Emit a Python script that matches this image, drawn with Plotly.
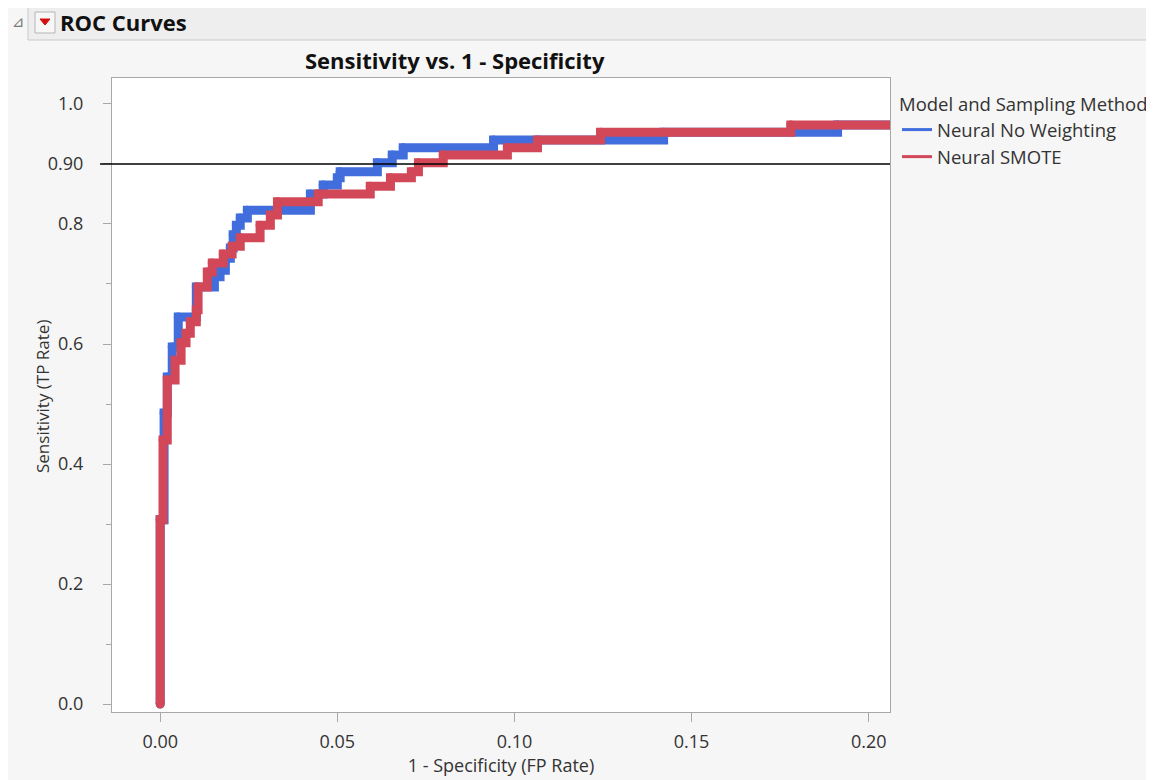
import plotly.graph_objects as go

# ---------------- data ----------------
series_names = ["Neural No Weighting", "Neural SMOTE"]

fpr_no_weighting = [0.0, 0.0, 0.0011, 0.002, 0.0034, 0.0051, 0.0102, 0.0153, 0.0169,
                    0.0184, 0.0198, 0.0206, 0.0215, 0.0226, 0.0246, 0.0424, 0.046,
                    0.05, 0.0508, 0.0613, 0.0655, 0.0686, 0.0941, 0.1421, 0.1912, 0.2232]
tpr_no_weighting = [0.0, 0.307, 0.485, 0.545, 0.595, 0.645, 0.695, 0.712, 0.723,
                    0.743, 0.76, 0.782, 0.798, 0.81, 0.823, 0.85, 0.865,
                    0.877, 0.887, 0.902, 0.915, 0.927, 0.94, 0.953, 0.965, 0.965]

fpr_smote = [0.0, 0.0, 0.0008, 0.002, 0.0042, 0.0059, 0.0073, 0.0085, 0.0102, 0.0107,
             0.0133, 0.0147, 0.0178, 0.0203, 0.0226, 0.0282, 0.0311, 0.0331, 0.0446,
             0.0593, 0.065, 0.0709, 0.0729, 0.0799, 0.098, 0.1065, 0.1243, 0.178, 0.2232]
tpr_smote = [0.0, 0.307, 0.44, 0.54, 0.573, 0.602, 0.618, 0.637, 0.657, 0.695,
             0.72, 0.735, 0.75, 0.763, 0.777, 0.798, 0.815, 0.837, 0.85,
             0.863, 0.877, 0.887, 0.902, 0.915, 0.927, 0.94, 0.953, 0.965, 0.965]

reference_sensitivity = 0.90

x_tick_values = [0.0, 0.05, 0.10, 0.15, 0.20]
x_tick_labels = ["0.00", "0.05", "0.10", "0.15", "0.20"]
y_tick_values = [0.0, 0.2, 0.4, 0.6, 0.8, 0.9, 1.0]
y_tick_labels = ["0.0", "0.2", "0.4", "0.6", "0.8", "0.90", "1.0"]
y_minor_values = [0.1, 0.3, 0.5, 0.7]

# ---------------- styling ----------------
OFF = 8                                   # page body margin added by the browser
W, H = 1154 - OFF, 780 - OFF
RPL, RPR, RPT, RPB = 112, 890, 78, 712    # plot area in reference-window pixels
PL, PR, PT, PB = RPL - OFF, RPR - OFF, RPT - OFF, RPB - OFF
FONT = "Open Sans"
BLUE = "#416EDC"
RED = "#D24858"
BG = "#F6F6F6"
TXT = "#333333"


def px_x(px):
    return (px - RPL) / (RPR - RPL)


def px_y(py):
    return (RPB - py) / (RPB - RPT)


fig = go.Figure()

for name, xs, ys, col in [(series_names[0], fpr_no_weighting, tpr_no_weighting, BLUE),
                          (series_names[1], fpr_smote, tpr_smote, RED)]:
    fig.add_trace(go.Scatter(
        x=xs, y=ys, mode="lines+markers", name=name, showlegend=False,
        line=dict(color=col, width=9, shape="hv"),
        marker=dict(color=col, size=9),
        hoverinfo="skip"))

# legend entries (line samples only)
for name, col in [(series_names[0], BLUE), (series_names[1], RED)]:
    fig.add_trace(go.Scatter(x=[None], y=[None], mode="lines", name=name,
                             line=dict(color=col, width=3)))

shapes = [
    # header bar
    dict(type="rect", xref="paper", yref="paper",
         x0=px_x(28), x1=px_x(1170), y0=px_y(40), y1=px_y(5),
         fillcolor="#EEEEEE", line=dict(color="#C9C9C9", width=1), layer="below"),
    # dropdown button
    dict(type="rect", xref="paper", yref="paper",
         x0=px_x(35), x1=px_x(55), y0=px_y(33), y1=px_y(12),
         fillcolor="#F7F7F7", line=dict(color="#B5B5B5", width=1)),
    dict(type="path", xref="paper", yref="paper",
         path="M {} {} L {} {} L {} {} Z".format(px_x(40), px_y(19), px_x(50), px_y(19), px_x(45), px_y(25)),
         fillcolor="#D01010", line=dict(color="#D01010", width=1)),
    # 0.90 reference line
    dict(type="line", xref="paper", yref="y",
         x0=px_x(100), x1=1.0, y0=reference_sensitivity, y1=reference_sensitivity,
         line=dict(color="black", width=1.5)),
]

annotations = [
    dict(text="⊿", xref="paper", yref="paper", x=px_x(10), y=px_y(22), xanchor="left",
         yanchor="middle", showarrow=False, font=dict(family="DejaVu Sans", size=15, color="#7A7A7A")),
    dict(text="<b>ROC Curves</b>", xref="paper", yref="paper", x=px_x(58), y=px_y(22),
         xanchor="left", yanchor="middle", showarrow=False,
         font=dict(family=FONT, size=22, color="#111111")),
    dict(text="<b>Sensitivity vs. 1 - Specificity</b>", xref="paper", yref="paper",
         x=px_x(455), y=px_y(60), xanchor="center", yanchor="middle", showarrow=False,
         font=dict(family=FONT, size=22, color="#111111")),
    dict(text="Sensitivity (TP Rate)", xref="paper", yref="paper", textangle=-90,
         x=px_x(42), y=px_y(397), xanchor="center", yanchor="middle", showarrow=False,
         font=dict(family=FONT, size=17, color=TXT)),
]

fig.update_layout(
    width=W, height=H,
    margin=dict(l=PL, r=W - PR, t=PT, b=H - PB, autoexpand=False),
    paper_bgcolor=BG, plot_bgcolor="white",
    font=dict(family=FONT, size=18, color=TXT),
    shapes=shapes, annotations=annotations,
    legend=dict(
        x=px_x(897), y=px_y(87), xanchor="left", yanchor="top",
        bgcolor="rgba(0,0,0,0)",
        title=dict(text="Model and Sampling Method", font=dict(family=FONT, size=18.5, color=TXT)),
        font=dict(family=FONT, size=18.5, color=TXT),
        tracegroupgap=0, itemwidth=30),
    xaxis=dict(
        range=[-0.0136, 0.206], tickvals=x_tick_values, ticktext=x_tick_labels,
        showgrid=False, zeroline=False, showline=True, mirror=True,
        linecolor="#A8A8A8", linewidth=1, ticks="outside", ticklen=9, tickcolor="#A8A8A8",
        tickfont=dict(family=FONT, size=18, color=TXT), ticklabelstandoff=4,
        title=dict(text="1 - Specificity (FP Rate)", font=dict(family=FONT, size=18, color=TXT),
                   standoff=4)),
    yaxis=dict(
        range=[-0.0133, 1.0433], tickvals=y_tick_values, ticktext=y_tick_labels,
        showgrid=False, zeroline=False, showline=True, mirror=True,
        linecolor="#A8A8A8", linewidth=1, ticks="outside", ticklen=8, tickcolor="#A8A8A8",
        tickfont=dict(family=FONT, size=18, color=TXT), ticklabelstandoff=16,
        minor=dict(tickmode="array", tickvals=y_minor_values, ticks="outside", ticklen=5,
                   tickcolor="#A8A8A8")),
)

fig.write_html("out.html")
